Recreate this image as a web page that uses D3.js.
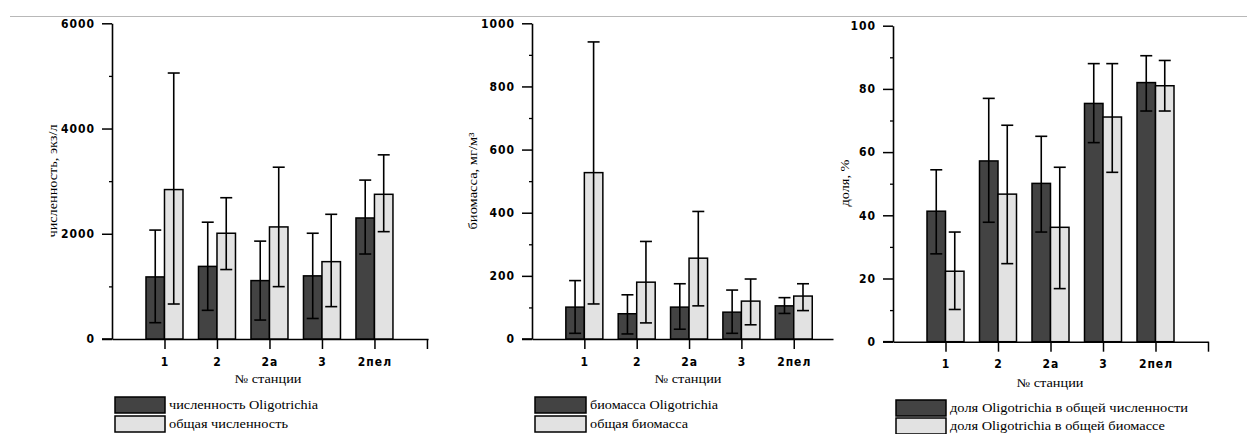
<!DOCTYPE html>
<html>
<head>
<meta charset="utf-8">
<script src="https://cdn.jsdelivr.net/npm/d3@7"></script>
<style>
  html, body { margin: 0; padding: 0; background: #fff; }
  svg { display: block; }
  .tick text, .num { font-family: "Liberation Sans Narrow", "DejaVu Sans Condensed", "Liberation Sans", sans-serif; font-weight: bold; font-size: 12px; letter-spacing: 1px; }
  .ser { font-family: "Liberation Serif", "DejaVu Serif", serif; font-size: 12px; }
</style>
</head>
<body>
<svg id="chart" width="1247" height="434"></svg>
<script>
// ---------- DATA ----------
const stations = ["1", "2", "2а", "3", "2пел"];

// Panel 1: численность, экз/л
const abundOligo      = [1180, 1380, 1110, 1200, 2300];
const abundOligoLow   = [310, 545, 360, 390, 1615];
const abundOligoHigh  = [2070, 2220, 1860, 2010, 3020];
const abundTotal      = [2840, 2010, 2130, 1470, 2750];
const abundTotalLow   = [665, 1320, 995, 615, 2040];
const abundTotalHigh  = [5055, 2685, 3265, 2370, 3500];
const abundTicks      = [0, 2000, 4000, 6000];
const abundMinor      = [1000, 3000, 5000];

// Panel 2: биомасса, мг/м3
const bioOligo        = [101, 80, 101, 85, 105];
const bioOligoLow     = [18, 16, 31, 18, 81];
const bioOligoHigh    = [185, 140, 175, 155, 131];
const bioTotal        = [527, 180, 256, 120, 136];
const bioTotalLow     = [111, 51, 105, 45, 90];
const bioTotalHigh    = [941, 309, 404, 190, 175];
const bioTicks        = [0, 200, 400, 600, 800, 1000];
const bioMinor        = [100, 300, 500, 700, 900];

// Panel 3: доля, %
const shareAbund      = [41.3, 57.2, 50.1, 75.4, 82.0];
const shareAbundLow   = [27.8, 37.8, 34.7, 63.0, 73.0];
const shareAbundHigh  = [54.4, 77.0, 65.0, 88.0, 90.5];
const shareBio        = [22.3, 46.7, 36.2, 71.1, 81.0];
const shareBioLow     = [10.2, 24.7, 16.8, 53.6, 73.0];
const shareBioHigh    = [34.7, 68.5, 55.2, 88.0, 89.0];
const shareTicks      = [0, 20, 40, 60, 80, 100];
const shareMinor      = [10, 30, 50, 70, 90];

const xTitle = "№ станции";

// ---------- DRAW ----------
const svg = d3.select("#chart");
const DARK = "#434343", LIGHT = "#e2e2e2";

// thin grey rule at top (page separator)
svg.append("line").attr("x1", 10).attr("x2", 1247).attr("y1", 16.5).attr("y2", 16.5)
   .attr("stroke", "#b8b8b8").attr("stroke-width", 1);

function panel(cfg) {
  const g = svg.append("g");
  const y = d3.scaleLinear().domain([0, cfg.ymax]).range([cfg.y0, cfg.y1]);
  const x = d3.scaleLinear().domain([0, cfg.xmax]).range([cfg.ax, cfg.axEnd]);
  const bw = 18.5;

  // x axis
  const xt = cfg.endTick ? [1, 2, 3, 4, 5, 6] : [1, 2, 3, 4, 5];
  const xAxis = d3.axisBottom(x).tickValues(xt).tickSize(10).tickSizeOuter(0).tickPadding(8)
      .tickFormat(d => d <= 5 ? stations[d - 1] : "");
  const gx = g.append("g").attr("transform", `translate(0,${cfg.y0})`).call(xAxis);
  gx.select(".domain").attr("stroke-width", 1.6);
  gx.selectAll(".tick line").attr("stroke-width", 1.5);
  gx.selectAll(".tick text").attr("fill", "#000");
  // extension of the zero line to the left of the y axis
  g.append("line").attr("x1", cfg.ax - 10).attr("x2", cfg.ax).attr("y1", cfg.y0).attr("y2", cfg.y0)
    .attr("stroke", "#000").attr("stroke-width", 1.6);

  // y axis
  const yAxis = d3.axisLeft(y).tickValues(cfg.ticks).tickSize(10).tickSizeOuter(0).tickPadding(7)
      .tickFormat(d3.format("d"));
  const gy = g.append("g").attr("transform", `translate(${cfg.ax},0)`).call(yAxis);
  gy.select(".domain").attr("stroke-width", 1.6);
  gy.selectAll(".tick line").attr("stroke-width", 1.5);
  gy.selectAll(".tick text").attr("fill", "#000");
  const yMinor = d3.axisLeft(y).tickValues(cfg.minor).tickSize(3).tickFormat("");
  const gm = g.append("g").attr("transform", `translate(${cfg.ax},0)`).call(yMinor);
  gm.select(".domain").remove();
  gm.selectAll(".tick line").attr("stroke-width", 1.3);

  // bars
  const series = [
    {v: cfg.a, lo: cfg.aLo, hi: cfg.aHi, fill: DARK, off: -bw},
    {v: cfg.b, lo: cfg.bLo, hi: cfg.bHi, fill: LIGHT, off: 0}
  ];
  series.forEach(s => {
    g.selectAll(null).data(s.v).enter().append("rect")
      .attr("x", (d, i) => x(i + 1) + s.off)
      .attr("width", bw)
      .attr("y", d => y(d))
      .attr("height", d => cfg.y0 - y(d))
      .attr("fill", s.fill).attr("stroke", "#000").attr("stroke-width", 1.5);
  });
  series.forEach(s => {
    const cx = i => x(i + 1) + s.off + bw / 2;
    const eg = g.append("g").attr("stroke", "#000").attr("stroke-width", 1.6);
    s.v.forEach((d, i) => {
      eg.append("line").attr("x1", cx(i)).attr("x2", cx(i)).attr("y1", y(s.lo[i])).attr("y2", y(s.hi[i]));
      eg.append("line").attr("x1", cx(i) - 6).attr("x2", cx(i) + 6).attr("y1", y(s.lo[i])).attr("y2", y(s.lo[i]));
      eg.append("line").attr("x1", cx(i) - 6).attr("x2", cx(i) + 6).attr("y1", y(s.hi[i])).attr("y2", y(s.hi[i]));
    });
  });

  // x title
  g.append("text").attr("class", "ser").attr("x", cfg.xTitleX).attr("y", cfg.xTitleY)
    .attr("text-anchor", "middle").attr("textLength", 67).attr("lengthAdjust", "spacingAndGlyphs")
    .text(xTitle);

  // y title
  g.append("text").attr("class", "ser")
    .attr("transform", `translate(${cfg.yTitleX},${cfg.yTitleY}) rotate(-90)`)
    .attr("text-anchor", "middle").attr("textLength", cfg.yTitleLen).attr("lengthAdjust", "spacingAndGlyphs")
    .text(cfg.yTitle);

  // legend
  const L = cfg.leg;
  [[DARK, cfg.legA, L.y1, L.wA], [LIGHT, cfg.legB, L.y2, L.wB]].forEach(([c, t, yy, w]) => {
    g.append("rect").attr("x", L.x).attr("y", yy).attr("width", L.w).attr("height", L.h)
      .attr("fill", c).attr("stroke", "#000").attr("stroke-width", 1.5);
    g.append("text").attr("class", "ser").attr("x", L.x + L.w + 4).attr("y", yy + L.h / 2 + 4)
      .attr("textLength", w).attr("lengthAdjust", "spacingAndGlyphs").text(t);
  });
}

panel({
  ymax: 6000, y0: 339, y1: 23.3, ax: 112, axEnd: 428, xmax: 6.02, endTick: true,
  ticks: abundTicks, minor: abundMinor,
  a: abundOligo, aLo: abundOligoLow, aHi: abundOligoHigh,
  b: abundTotal, bLo: abundTotalLow, bHi: abundTotalHigh,
  xTitleX: 268, xTitleY: 383, yTitle: "численность, экз/л", yTitleX: 57, yTitleY: 181, yTitleLen: 113,
  legA: "численность Oligotrichia", legB: "общая численность",
  leg: {x: 115, w: 50, h: 16, y1: 397, y2: 416, wA: 149, wB: 119}
});

panel({
  ymax: 1000, y0: 339, y1: 23.3, ax: 532, axEnd: 833, xmax: 5.75, endTick: false,
  ticks: bioTicks, minor: bioMinor,
  a: bioOligo, aLo: bioOligoLow, aHi: bioOligoHigh,
  b: bioTotal, bLo: bioTotalLow, bHi: bioTotalHigh,
  xTitleX: 688, xTitleY: 383, yTitle: "биомасса, мг/м³", yTitleX: 477, yTitleY: 181, yTitleLen: 97,
  legA: "биомасса Oligotrichia", legB: "общая биомасса",
  leg: {x: 535, w: 51, h: 16, y1: 397, y2: 416, wA: 128, wB: 98}
});

panel({
  ymax: 100, y0: 341.7, y1: 25.7, ax: 893, axEnd: 1208, xmax: 6.0, endTick: true,
  ticks: shareTicks, minor: shareMinor,
  a: shareAbund, aLo: shareAbundLow, aHi: shareAbundHigh,
  b: shareBio, bLo: shareBioLow, bHi: shareBioHigh,
  xTitleX: 1050, xTitleY: 387, yTitle: "доля, %", yTitleX: 849, yTitleY: 183, yTitleLen: 47,
  legA: "доля Oligotrichia в общей численности", legB: "доля Oligotrichia в общей биомассе",
  leg: {x: 896, w: 50, h: 16, y1: 400, y2: 418, wA: 238, wB: 215}
});
</script>
</body>
</html>
